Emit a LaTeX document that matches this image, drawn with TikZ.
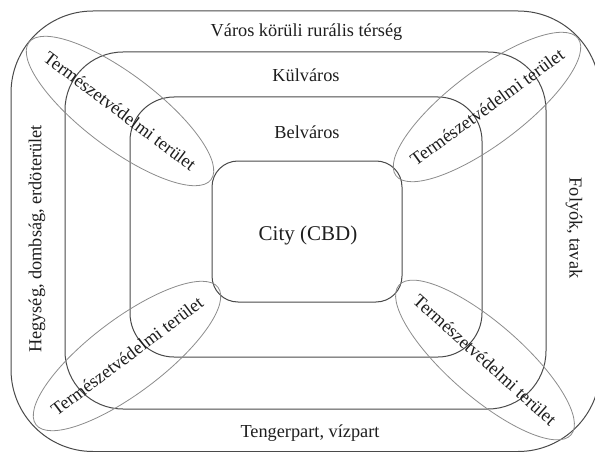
\documentclass[tikz,border=0pt]{standalone}
\usepackage{fontspec}
\setmainfont{Liberation Serif}
\usetikzlibrary{shapes.geometric}
\definecolor{framecol}{HTML}{4A4A4A}
\definecolor{ellcol}{HTML}{8C8C8C}
\definecolor{txtcol}{HTML}{1E1E1E}
\tikzset{
  zonebox/.style={draw=framecol, line width=1pt, inner sep=0pt, rectangle},
  reserve/.style={draw=ellcol, line width=0.8pt, ellipse, inner sep=0pt,
                  minimum width=228pt, minimum height=74pt},
  lbl/.style={text=txtcol, font=\fontsize{18.3}{20}\selectfont, inner sep=0pt},
}
\begin{document}
\begin{tikzpicture}[x=1pt,y=-1pt]
\useasboundingbox (0,0) rectangle (595,452);
\fill[white] (0,0) rectangle (595,452);
% nested zones
\node[zonebox, rounded corners=82pt, minimum width=589pt, minimum height=440.5pt] (outer) at (305.5,231.25) {};
\node[zonebox, rounded corners=58pt, minimum width=481pt, minimum height=357pt] (kul) at (305.5,230.5) {};
\node[zonebox, rounded corners=44pt, minimum width=352pt, minimum height=260pt] (bel) at (306,227) {};
\node[zonebox, rounded corners=26pt, minimum width=190pt, minimum height=141pt] (city) at (307,231.5) {};
% labels
\node[lbl, anchor=base] (touter) at (306.5,37) {Város körüli rurális térség};
\node[lbl, anchor=base] (tkul) at (306,82) {Külváros};
\node[lbl, anchor=base] (tbel) at (307,139) {Belváros};
\node[lbl, anchor=base, font=\fontsize{21}{24}\selectfont] (tcity) at (308,240) {City (CBD)};
\node[lbl, anchor=base] (tsea) at (310,437) {Tengerpart, vízpart};
\node[lbl, rotate=90] (tmount) at (37,239) {Hegység, dombság, erdöterület};
\node[lbl, rotate=-90] (triver) at (574,228) {Folyók, tavak};
% nature reserves
\node[reserve, rotate=-37] (ntl) at (120,111) {};
\node[lbl, rotate=-37] (ttl) at (ntl.center) {Természetvédelmi terület};
\node[reserve, rotate=37] (ntr) at (487,107) {};
\node[lbl, rotate=36] (ttr) at (ntr.center) {Természetvédelmi terület};
\node[reserve, rotate=37] (nbl) at (127,356) {};
\node[lbl, rotate=37] (tbl) at (nbl.center) {Természetvédelmi terület};
\node[reserve, rotate=-41] (nbr) at (485,360) {};
\node[lbl, rotate=-42] (tbr) at (nbr.center) {Természetvédelmi terület};
\end{tikzpicture}
\end{document}
